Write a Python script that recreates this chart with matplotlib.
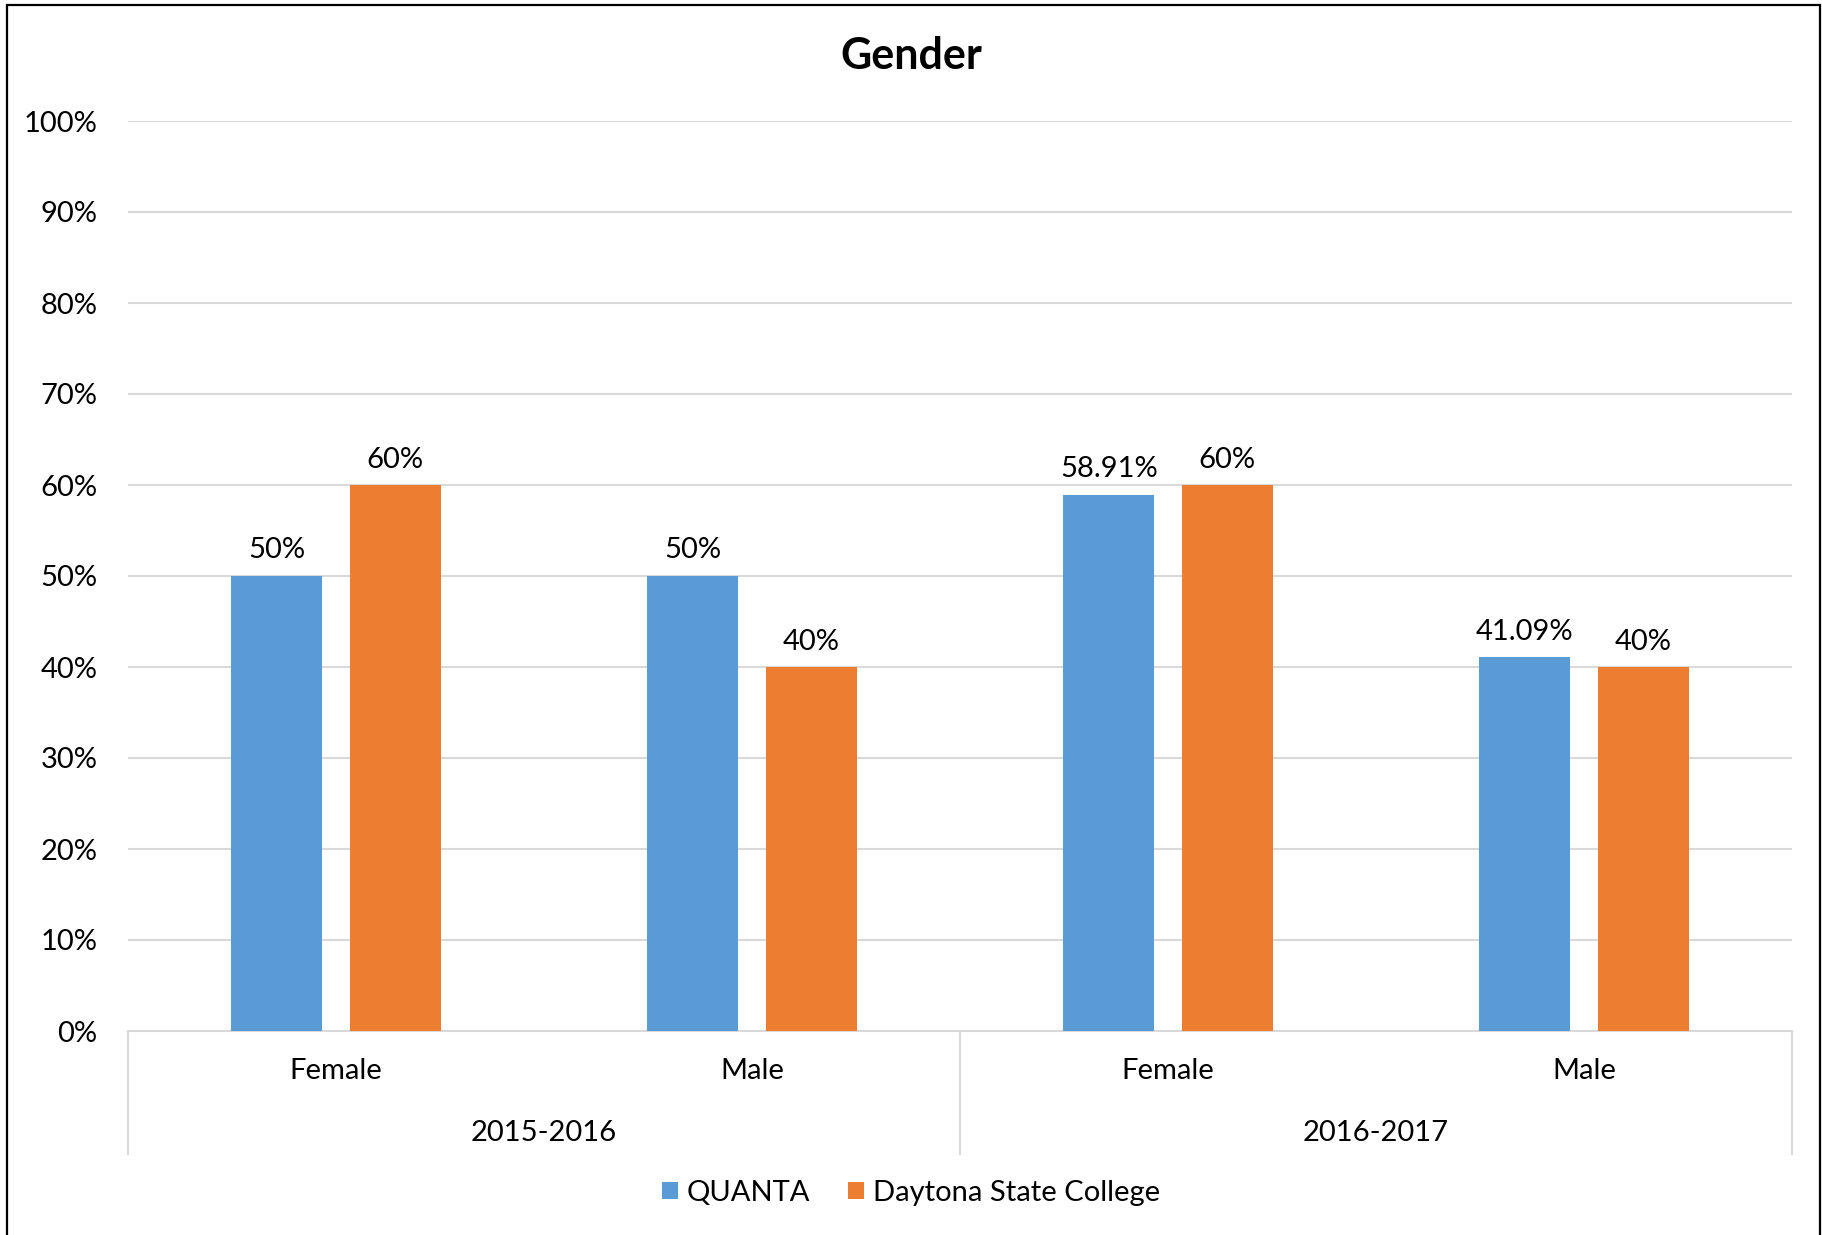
import matplotlib
matplotlib.use("Agg")
import matplotlib.pyplot as plt
from matplotlib.patches import Rectangle
from matplotlib.transforms import blended_transform_factory

plt.rcParams['font.family'] = ['Lato', 'DejaVu Sans']

years = ["2015-2016", "2016-2017"]
genders = ["Female", "Male"]
quanta = [50, 50, 58.91, 41.09]
daytona = [60, 40, 60, 40]
quanta_labels = ["50%", "50%", "58.91%", "41.09%"]
daytona_labels = ["60%", "40%", "60%", "40%"]
series_names = ["QUANTA", "Daytona State College"]
colors = ["#5B9BD5", "#ED7D31"]

W, H = 1822, 1235
FS = 21
fig = plt.figure(figsize=(W / 100, H / 100), dpi=100)
fig.patches.append(Rectangle((7 / W, -0.01), (1820 - 7) / W, 1 - 5 / H + 0.01,
                             transform=fig.transFigure, fill=False,
                             edgecolor="black", linewidth=1.6))

ax = fig.add_axes([128 / W, 1 - 1031 / H, (1792 - 128) / W, (1031 - 121) / H])

x = list(range(len(quanta)))
bw = 0.22
off = 0.1425
b1 = ax.bar([i - off for i in x], quanta, width=bw, color=colors[0], label=series_names[0], zorder=3)
b2 = ax.bar([i + off for i in x], daytona, width=bw, color=colors[1], label=series_names[1], zorder=3)

for bars, labels in ((b1, quanta_labels), (b2, daytona_labels)):
    for rect, lab in zip(bars, labels):
        ax.annotate(lab, (rect.get_x() + rect.get_width() / 2, rect.get_height()),
                    xytext=(0, 9), textcoords="offset points",
                    ha="center", va="bottom", fontsize=FS, color="#000000")

ax.set_xlim(-0.5, len(quanta) - 0.5)
ax.set_ylim(0, 100)
ax.set_yticks(range(0, 101, 10))
ax.set_yticklabels([f"{v}%" for v in range(0, 101, 10)], fontsize=FS)
ax.tick_params(axis="y", length=0, pad=22)
ax.set_xticks([])
ax.grid(axis="y", color="#d9d9d9", linewidth=1.5, zorder=0)
for s in ("top", "right", "left"):
    ax.spines[s].set_visible(False)
ax.spines["bottom"].set_color("#d9d9d9")
ax.spines["bottom"].set_linewidth(1.5)

tr = blended_transform_factory(ax.transData, ax.transAxes)
for i in x:
    ax.text(i, -0.044, genders[i % 2], transform=tr, ha="center", va="center", fontsize=FS)
for j, yr in enumerate(years):
    ax.text(2 * j + 0.5, -0.112, yr, transform=tr, ha="center", va="center", fontsize=FS)
for xs in (-0.5, 1.5, 3.5):
    ax.plot([xs, xs], [0, -0.135], transform=tr, color="#d9d9d9", linewidth=1.5, clip_on=False)

fig.text(0.5, 1 - 56 / H, "Gender", ha="center", va="center", fontsize=31, fontweight="bold")

fig.legend(handles=[b1, b2], labels=series_names, loc="center", bbox_to_anchor=(0.5, 1 - 1193 / H),
           ncol=2, frameon=False, fontsize=FS, handlelength=0.55, handleheight=0.55,
           handletextpad=0.3, columnspacing=1.3)

fig.savefig("out.png", dpi=100, facecolor="white")
